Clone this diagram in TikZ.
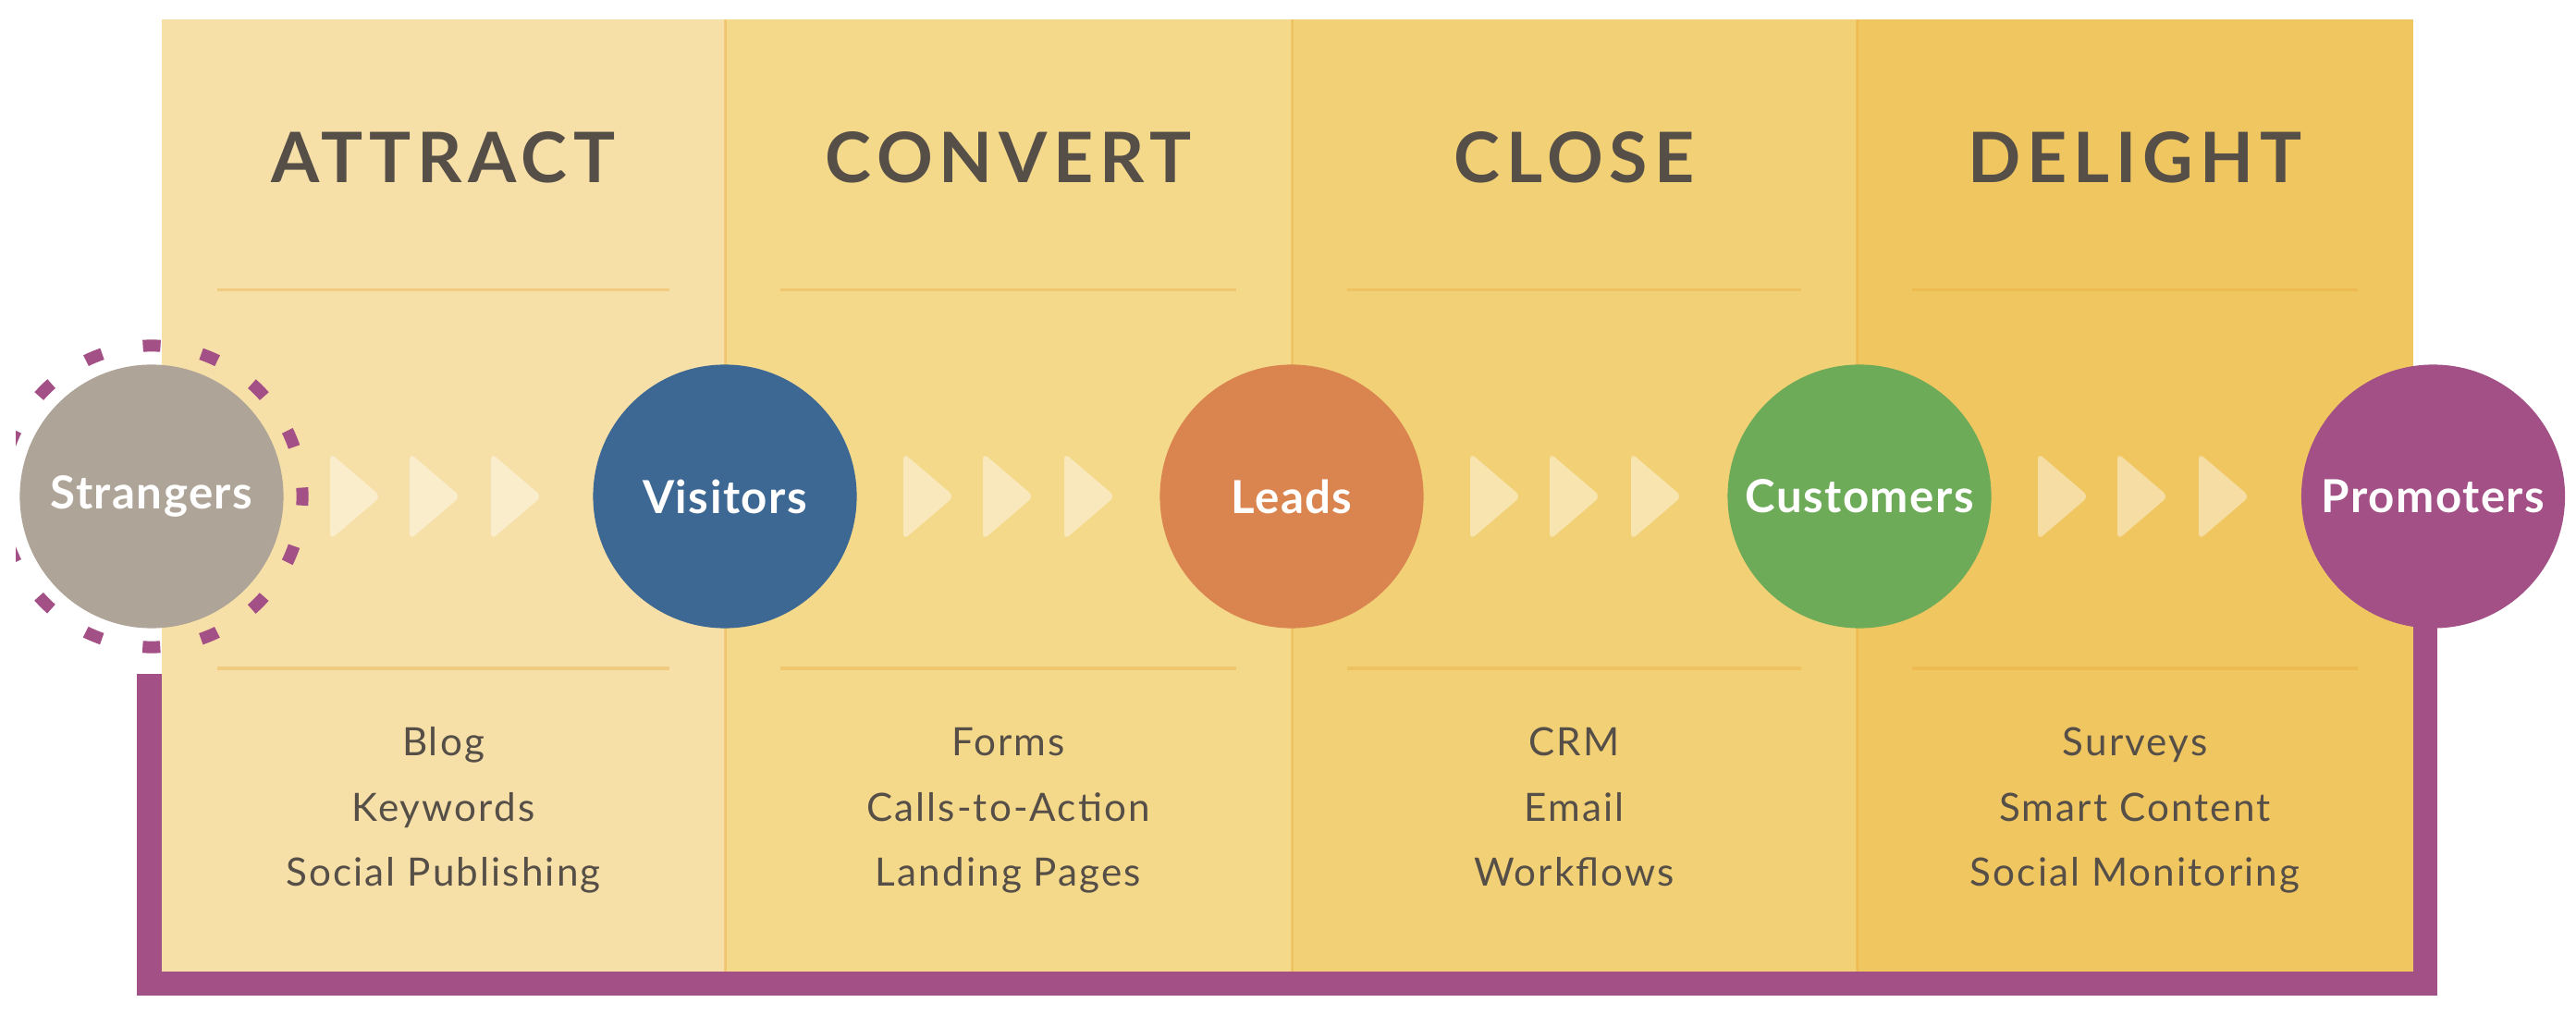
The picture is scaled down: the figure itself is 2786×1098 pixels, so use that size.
\documentclass[tikz,border=0pt]{standalone}
\usepackage{fontspec}
\setmainfont{Lato}
\newfontfamily\titlefont[LetterSpace=9]{Lato}
\newfontfamily\stagefont[LetterSpace=3]{Lato}
\newfontfamily\toolfont[LetterSpace=5]{Lato}
\usetikzlibrary{calc,backgrounds}

\definecolor{attractbg}{HTML}{F7E0A8}
\definecolor{convertbg}{HTML}{F5D98B}
\definecolor{closebg}{HTML}{F2D176}
\definecolor{delightbg}{HTML}{F0C661}
\definecolor{rulecol}{HTML}{E8A838}
\definecolor{textgray}{HTML}{564F48}
\definecolor{strangercol}{HTML}{AEA498}
\definecolor{visitorcol}{HTML}{3D6894}
\definecolor{leadcol}{HTML}{DA844F}
\definecolor{customercol}{HTML}{6DAB58}
\definecolor{promotercol}{HTML}{A35086}

\begin{document}
\begin{tikzpicture}[x=0.01cm,y=-0.01cm]

    \tikzset{
      stage/.style={
        circle,
        inner sep=0pt,
        minimum size=2.85cm,
        text=white,
        font=\stagefont\fontsize{14}{16}\selectfont\bfseries,
      },
      ring/.style={
        circle,
        inner sep=0pt,
        minimum size=3.26cm,
        draw=promotercol,
        line width=0.13cm,
        dash pattern=on 0.19cm off 0.45cm,
        dash phase=0.095cm,
      },
      title/.style={text=textgray, font=\titlefont\fontsize{21.4}{24}\selectfont\bfseries},
      tool/.style={text=textgray, anchor=base, font=\toolfont\fontsize{12}{14}\selectfont},
      rule/.style={rulecol, opacity=0.35, line width=0.03cm},
      chevron/.style={white, fill opacity=0.42, rounded corners=0.07cm},
      loopline/.style={promotercol, line width=0.265cm, line join=miter},
    }

	\useasboundingbox (0,0) rectangle (2786,1098);

	\fill[attractbg] (175,21) rectangle (784,1051);
	\fill[convertbg] (784,21) rectangle (1397,1051);
	\fill[closebg] (1397,21) rectangle (2008,1051);
	\fill[delightbg] (2008,21) rectangle (2610,1051);
	\draw[rule] (784,21)--(784,1051);
	\draw[rule] (1397,21)--(1397,1051);
	\draw[rule] (2008,21)--(2008,1051);

	\foreach \l/\r in {175/784, 784/1397, 1397/2008, 2008/2610} {
	  \draw[rule] (\l+60,314)--(\r-60,314);
	  \draw[rule] (\l+60,723)--(\r-60,723);
	}

	\node[title] (attract) at (479.5,170) {ATTRACT};
	\node[title] (convert) at (1090.5,170) {CONVERT};
	\node[title] (close) at (1702.5,170) {CLOSE};
	\node[title] (delight) at (2309,170) {DELIGHT};

	\foreach \x/\a/\b/\c [count=\i] in {479.5/Blog/Keywords/Social Publishing,
	    1090.5/Forms/Calls-to-Action/Landing Pages,
	    1702.5/CRM/Email/Workflows,
	    2309/Surveys/Smart Content/Social Monitoring} {
	  \node[tool] (tool-\i-1) at (\x,817) {\a};
	  \node[tool] (tool-\i-2) at (\x,888) {\b};
	  \node[tool] (tool-\i-3) at (\x,958) {\c};
	}

	\begin{scope}
	  \clip (17,0) rectangle (2786,1098);
	  \node[ring] (ring) at (164,537) {};
	\end{scope}
	\node[stage, fill=strangercol] (strangers) at (164,537) {Strangers};
	\node[stage, fill=visitorcol] (visitors) at (784,537) {Visitors};
	\node[stage, fill=leadcol] (leads) at (1397,537) {Leads};
	\node[stage, fill=customercol] (customers) at (2011,537) {Customers};
	\node[stage, fill=promotercol] (promoters) at (2631.5,537) {Promoters};

	\foreach \a in {strangers, visitors, leads, customers} {
	  \foreach \d in {193,279,367} {
	    \fill[chevron] ($(\a)+(\d,-47)$) -- ++(0,94) -- ++(55,-47) -- cycle;
	  }
	}

	\coordinate (loopR) at (2623,1064);
	\coordinate (loopL) at (161.5,1064);
	\begin{scope}[on background layer]
	  \draw[loopline] (promoters.center -| loopR) -- (loopR) -- (loopL) -- ([yshift=-0.22cm]ring.south -| loopL);
	\end{scope}

\end{tikzpicture}
\end{document}
